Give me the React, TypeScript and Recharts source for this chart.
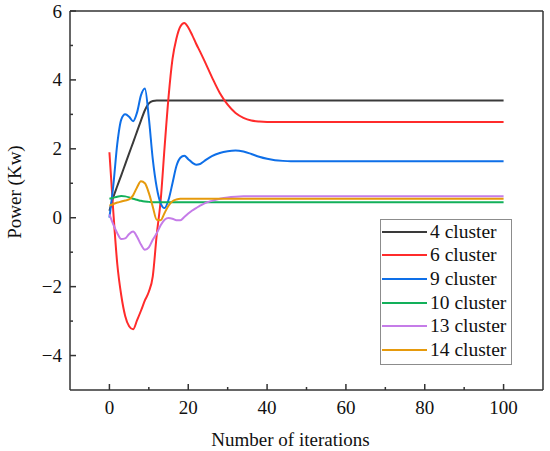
import React from "react";
import { LineChart, Line, XAxis, YAxis, ReferenceLine, Legend, Label } from "recharts";

const iterations = [
  0, 1, 2, 3, 4, 5, 6, 7, 8, 9, 10, 11, 12, 13, 14, 15, 16, 17, 18, 19, 20, 21, 22, 23, 24,
  26, 28, 30, 32, 34, 36, 38, 40, 42, 44, 46, 48, 50, 60, 70, 80, 90, 100,
];

const cluster4 = [
  0.2, 0.6, 0.92, 1.23, 1.55, 1.87, 2.18, 2.5, 2.82, 3.12, 3.32, 3.39, 3.4, 3.4, 3.4, 3.4, 3.4, 3.4, 3.4, 3.4, 3.4, 3.4, 3.4, 3.4, 3.4,
  3.4, 3.4, 3.4, 3.4, 3.4, 3.4, 3.4, 3.4, 3.4, 3.4, 3.4, 3.4, 3.4, 3.4, 3.4, 3.4, 3.4, 3.4,
];

const cluster6 = [
  1.9, 0.15, -1.35, -2.25, -2.85, -3.15, -3.24, -2.98, -2.7, -2.4, -2.15, -1.7, -0.5, 0.5, 2.05, 3.5, 4.6, 5.2, 5.55, 5.65, 5.52, 5.3, 5.05, 4.82, 4.58,
  4.08, 3.62, 3.28, 3.04, 2.9, 2.82, 2.79, 2.78, 2.78, 2.78, 2.78, 2.78, 2.78, 2.78, 2.78, 2.78, 2.78, 2.78,
];

const cluster9 = [
  0.0, 0.95, 2.15, 2.85, 3.0, 2.93, 2.8, 3.05, 3.55, 3.75, 2.9, 1.7, 0.88, 0.42, 0.28, 0.52, 1.0, 1.5, 1.74, 1.8, 1.7, 1.6, 1.54, 1.56, 1.64,
  1.79, 1.88, 1.93, 1.95, 1.92, 1.85, 1.77, 1.71, 1.67, 1.65, 1.64, 1.64, 1.64, 1.64, 1.64, 1.64, 1.64, 1.64,
];

const cluster10 = [
  0.55, 0.58, 0.61, 0.63, 0.62, 0.59, 0.55, 0.52, 0.49, 0.47, 0.46, 0.45, 0.45, 0.45, 0.45, 0.45, 0.45, 0.45, 0.45, 0.45, 0.45, 0.45, 0.45, 0.45, 0.45,
  0.45, 0.45, 0.45, 0.45, 0.45, 0.45, 0.45, 0.45, 0.45, 0.45, 0.45, 0.45, 0.45, 0.45, 0.45, 0.45, 0.45, 0.45,
];

const cluster13 = [
  0.1, -0.2, -0.45, -0.62, -0.6, -0.47, -0.4, -0.55, -0.78, -0.93, -0.86, -0.64, -0.45, -0.22, -0.06, -0.01, -0.03, -0.07, -0.07, 0.02, 0.12, 0.21, 0.28, 0.35, 0.41,
  0.49, 0.55, 0.59, 0.61, 0.62, 0.62, 0.62, 0.62, 0.62, 0.62, 0.62, 0.62, 0.62, 0.62, 0.62, 0.62, 0.62, 0.62,
];

const cluster14 = [
  0.35, 0.4, 0.44, 0.47, 0.5, 0.53, 0.65, 0.88, 1.06, 1.0, 0.72, 0.32, -0.06, -0.07, 0.14, 0.35, 0.48, 0.53, 0.55, 0.55, 0.55, 0.55, 0.55, 0.55, 0.55,
  0.55, 0.55, 0.55, 0.55, 0.55, 0.55, 0.55, 0.55, 0.55, 0.55, 0.55, 0.55, 0.55, 0.55, 0.55, 0.55, 0.55, 0.55,
];

const xTicks = [0, 10, 20, 30, 40, 50, 60, 70, 80, 90, 100];
const yTicks = [-4, -3, -2, -1, 0, 1, 2, 3, 4, 5, 6];

const series = [
  { key: "c4", name: "4 cluster", color: "#3a3a3a", values: cluster4 },
  { key: "c6", name: "6 cluster", color: "#ff2b2b", values: cluster6 },
  { key: "c9", name: "9 cluster", color: "#0e6fe8", values: cluster9 },
  { key: "c10", name: "10 cluster", color: "#12b05a", values: cluster10 },
  { key: "c13", name: "13 cluster", color: "#c57ce8", values: cluster13 },
  { key: "c14", name: "14 cluster", color: "#e69a0c", values: cluster14 },
];

const data = iterations.map((it, i) => {
  const row: Record<string, number> = { iter: it };
  series.forEach((s) => {
    row[s.key] = s.values[i];
  });
  return row;
});

const font = '"Times New Roman", "Liberation Serif", Tinos, serif';
const axisColor = "#333";

const XTick = (props: any) => {
  const { x, y, payload } = props;
  const major = payload.value % 20 === 0;
  return (
    <g>
      <line x1={x} x2={x} y1={y} y2={y - (major ? 6 : 3)} stroke={axisColor} strokeWidth={1.5} />
      {major && (
        <text x={x} y={y + 23.5} textAnchor="middle" fontSize={19} fill="#111" style={{ fontFamily: font }}>
          {payload.value}
        </text>
      )}
    </g>
  );
};

const YTick = (props: any) => {
  const { x, y, payload } = props;
  const major = payload.value % 2 === 0;
  return (
    <g>
      <line x1={x} x2={x + (major ? 6 : 3)} y1={y} y2={y} stroke={axisColor} strokeWidth={1.5} />
      {major && (
        <text x={x - 8} y={y + 6.5} textAnchor="end" fontSize={19} fill="#111" style={{ fontFamily: font }}>
          {String(payload.value).replace("-", "\u2212")}
        </text>
      )}
    </g>
  );
};

const LegendBox = () => (
  <div
    style={{
      width: 132,
      height: 146,
      boxSizing: "border-box",
      border: "1px solid #8c8c8c",
      background: "#fff",
      fontFamily: font,
    }}
  >
    {series.map((s) => (
      <div key={s.key} style={{ display: "flex", alignItems: "center", height: 23.6 }}>
        <div style={{ width: 45, height: 2, marginLeft: 1, background: s.color }} />
        <span style={{ marginLeft: 3, fontSize: 19.5, color: "#111", lineHeight: "20px", fontFamily: font }}>{s.name}</span>
      </div>
    ))}
  </div>
);

export default function App() {
  return (
    <div style={{ position: "absolute", left: 0, top: 0, background: "#fff", fontFamily: font }}>
      <LineChart width={550} height={451} data={data} margin={{ top: 11, right: 7, bottom: 0, left: 0 }}>
        <XAxis
          dataKey="iter"
          type="number"
          domain={[-10, 110]}
          ticks={xTicks}
          interval={0}
          height={61}
          tickSize={0}
          tickMargin={0}
          tick={XTick}
          axisLine={{ stroke: axisColor, strokeWidth: 1.5 }}
          tickLine={false}
        >
          <Label
            content={(p: any) => {
              const vb = p.viewBox || { x: 70, width: 473 };
              return (
                <text x={vb.x + vb.width / 2 - 16} y={446} textAnchor="middle" fontSize={19} fill="#111" style={{ fontFamily: font }}>
                  Number of iterations
                </text>
              );
            }}
          />
        </XAxis>
        <YAxis
          type="number"
          domain={[-5, 6]}
          ticks={yTicks}
          interval={0}
          width={70}
          tickSize={0}
          tickMargin={0}
          tick={YTick}
          axisLine={{ stroke: axisColor, strokeWidth: 1.5 }}
          tickLine={false}
          allowDataOverflow
        >
          <Label
            content={() => (
              <text x={21} y={192} transform="rotate(-90 21 192)" textAnchor="middle" fontSize={19} fill="#111" style={{ fontFamily: font }}>
                Power (Kw)
              </text>
            )}
          />
        </YAxis>
        <ReferenceLine y={6} stroke={axisColor} strokeWidth={1.5} />
        <ReferenceLine x={110} stroke={axisColor} strokeWidth={1.5} />
        {series.map((s) => (
          <Line
            key={s.key}
            dataKey={s.key}
            name={s.name}
            type="monotone"
            stroke={s.color}
            strokeWidth={2}
            dot={false}
            activeDot={false}
            isAnimationActive={false}
          />
        ))}
        <Legend
          layout="vertical"
          align="center"
          verticalAlign="middle"
          content={LegendBox}
          wrapperStyle={{ left: 380, top: 219, width: 132, height: 146 }}
        />
      </LineChart>
    </div>
  );
}
